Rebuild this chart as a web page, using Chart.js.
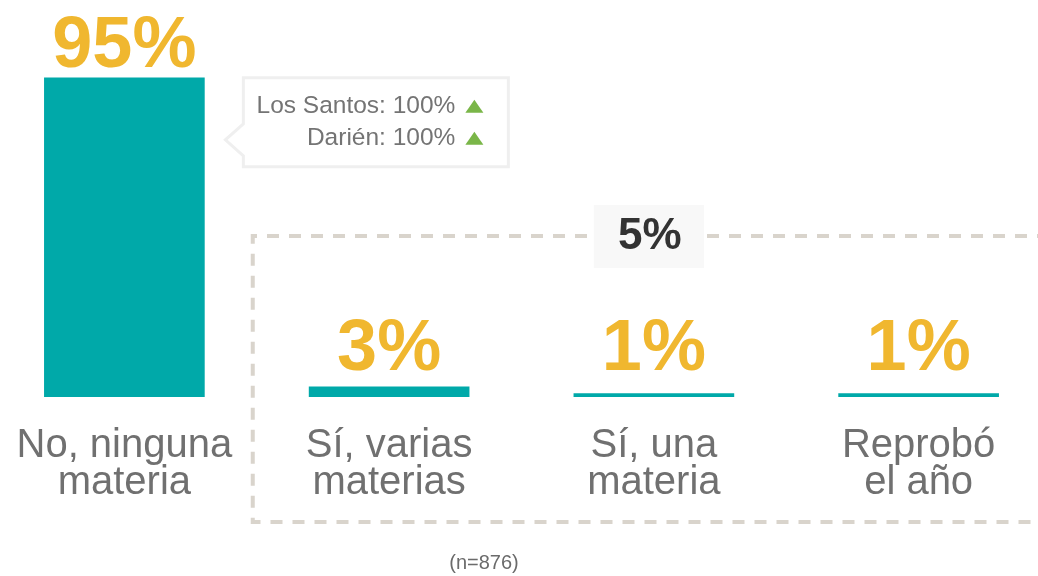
<!DOCTYPE html>
<html>
<head>
<meta charset="utf-8">
<script src="https://cdn.jsdelivr.net/npm/chart.js@4"></script>
<style>
  html, body { margin: 0; padding: 0; background: #fff; overflow: hidden; }
  #wrap { position: relative; width: 1059px; height: 576px; margin-left: -8px; }
</style>
</head>
<body>
<div id="wrap"><canvas id="reprobChart"></canvas></div>
<script>
const categories = [['No, ninguna', 'materia'], ['Sí, varias', 'materias'], ['Sí, una', 'materia'], ['Reprobó', 'el año']];
const percentValues = [95, 3, 1, 1];
const groupTotal = 5;
const compareRegions = ['Los Santos', 'Darién'];
const compareValues = [100, 100];
const sampleNote = '(n=876)';

const FONT = '"Liberation Sans", Arial, sans-serif';

const decorations = {
    id: 'decorations',
    afterDatasetsDraw(chart) {
        const ctx = chart.ctx;
        const x = chart.scales.x;
        const meta = chart.getDatasetMeta(0);
        ctx.save();

        // value labels
        ctx.fillStyle = '#f0b72f';
        ctx.font = 'bold 72px ' + FONT;
        ctx.textAlign = 'center';
        ctx.textBaseline = 'alphabetic';
        meta.data.forEach((bar, i) => {
            const y = Math.min(bar.y - 11, 370);
            ctx.fillText(percentValues[i] + '%', bar.x, y);
        });

        // dashed group box
        const left = (x.getPixelForValue(0) + x.getPixelForValue(1)) / 2 - 4;
        const top = 236, bottom = 522, right = chart.width + 20;
        ctx.strokeStyle = '#d9d4cc';
        ctx.lineWidth = 4;
        ctx.setLineDash([12, 10]);
        ctx.beginPath();
        ctx.moveTo(right, top);
        ctx.lineTo(left, top);
        ctx.lineTo(left, bottom);
        ctx.lineTo(right, bottom);
        ctx.stroke();
        ctx.setLineDash([]);

        // group total label
        const gx = (x.getPixelForValue(1) + x.getPixelForValue(3)) / 2 - 4;
        ctx.fillStyle = '#f8f8f8';
        ctx.fillRect(gx - 56, top - 31, 110, 63);
        ctx.fillStyle = '#333333';
        ctx.font = 'bold 44px ' + FONT;
        ctx.textBaseline = 'middle';
        ctx.fillText(groupTotal + '%', gx, top + 1);

        // comparison callout
        const b0 = meta.data[0];
        const bx = b0.x + b0.width / 2 + 39;
        const by = b0.y;
        const bw = 265, bh = 89;
        ctx.fillStyle = '#ffffff';
        ctx.strokeStyle = '#efefef';
        ctx.lineWidth = 3;
        ctx.beginPath();
        ctx.moveTo(bx, by);
        ctx.lineTo(bx + bw, by);
        ctx.lineTo(bx + bw, by + bh);
        ctx.lineTo(bx, by + bh);
        ctx.lineTo(bx, by + 78);
        ctx.lineTo(bx - 18, by + 62);
        ctx.lineTo(bx, by + 46);
        ctx.closePath();
        ctx.fill();
        ctx.stroke();

        ctx.font = '24.5px ' + FONT;
        ctx.textAlign = 'right';
        ctx.textBaseline = 'middle';
        compareRegions.forEach((name, i) => {
            const ty = by + 28 + i * 32;
            ctx.fillStyle = '#747474';
            ctx.fillText(name + ': ' + compareValues[i] + '%', bx + 212, ty);
            ctx.fillStyle = '#7ab648';
            ctx.beginPath();
            ctx.moveTo(bx + 222, ty + 7);
            ctx.lineTo(bx + 240, ty + 7);
            ctx.lineTo(bx + 231, ty - 6);
            ctx.closePath();
            ctx.fill();
        });

        // sample size
        ctx.fillStyle = '#6b6b6b';
        ctx.font = '20px ' + FONT;
        ctx.textAlign = 'center';
        ctx.fillText(sampleNote, 492, 563);

        ctx.restore();
    }
};

const ctx = document.getElementById('reprobChart').getContext('2d');
const myChart = new Chart(ctx, {
    type: 'bar',
    data: {
        labels: categories,
        datasets: [{
            data: percentValues,
            backgroundColor: '#00a9a9',
            borderWidth: 0,
            barThickness: 160
        }]
    },
    options: {
        responsive: true,
        maintainAspectRatio: false,
        animation: false,
        layout: { padding: { top: 61, left: 0, right: 0, bottom: 0 } },
        plugins: {
            legend: { display: false },
            tooltip: { enabled: false }
        },
        scales: {
            y: {
                display: false,
                min: 0,
                max: 100
            },
            x: {
                grid: { display: false, drawTicks: false },
                border: { display: false },
                afterFit: s => {
                    s.height = 179;
                    s.paddingLeft = 0;
                    s.paddingRight = 0;
                },
                ticks: {
                    color: '#707070',
                    font: { family: FONT, size: 40, lineHeight: 0.93 },
                    padding: 30,
                    maxRotation: 0,
                    autoSkip: false
                }
            }
        }
    },
    plugins: [decorations]
});
</script>
</body>
</html>
